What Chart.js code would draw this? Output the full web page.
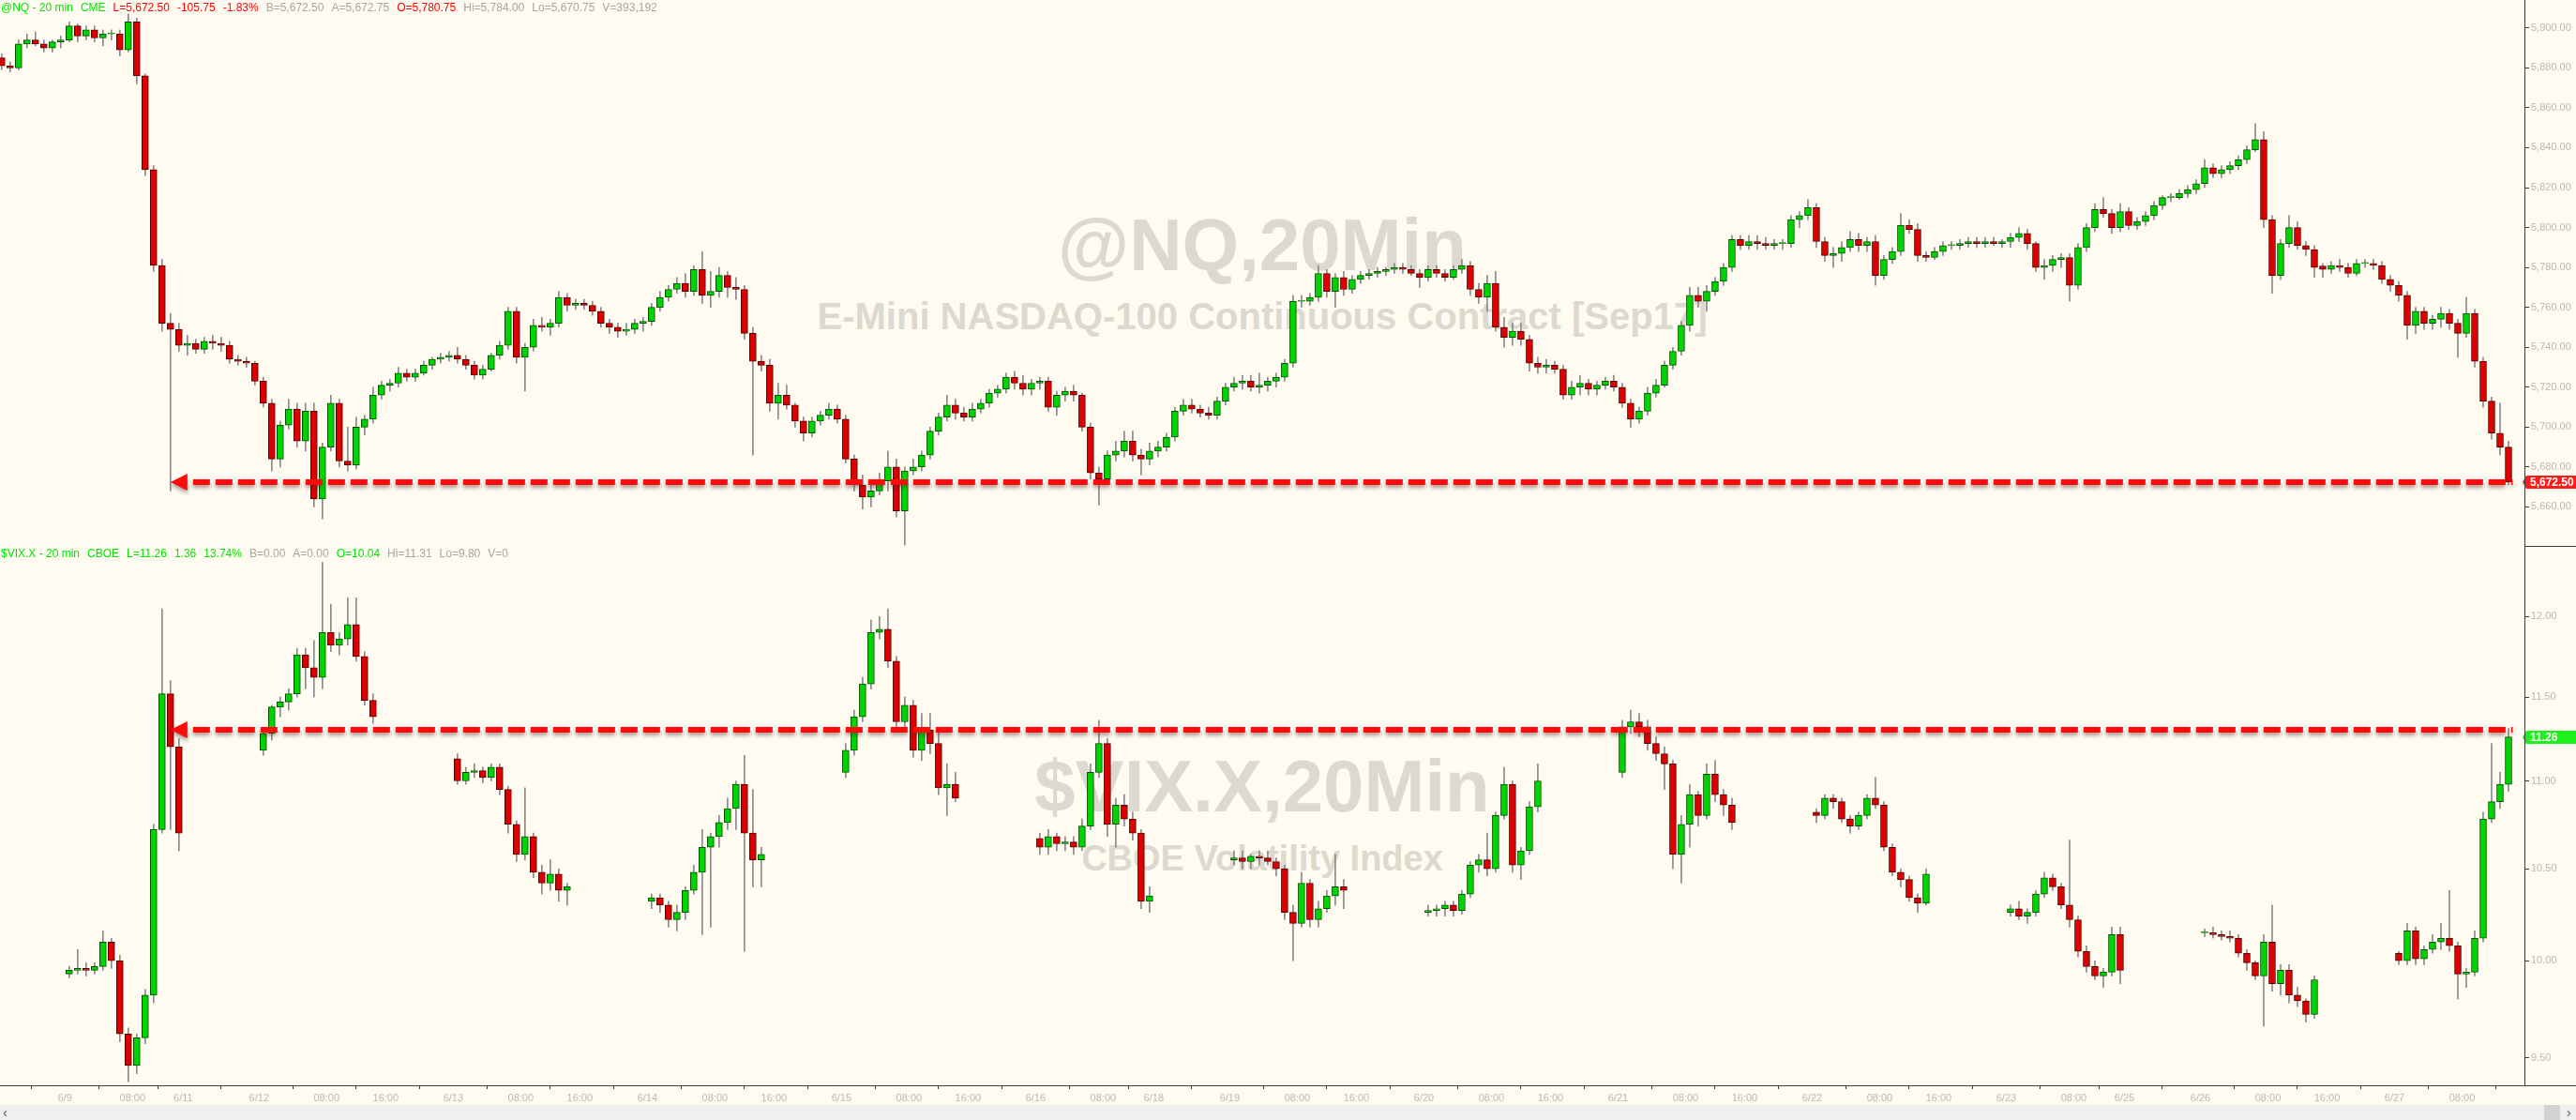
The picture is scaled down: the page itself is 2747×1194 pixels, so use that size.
<!DOCTYPE html>
<html><head><meta charset="utf-8">
<script src="https://cdn.jsdelivr.net/npm/chart.js@4/dist/chart.umd.min.js"></script>
<style>
html,body{margin:0;padding:0;background:#fffbf0;width:2747px;height:1194px;overflow:hidden;}
#wrap{position:relative;width:2747px;height:1194px;font-family:'Liberation Sans',Arial,sans-serif;}
canvas{position:absolute;left:0;z-index:2;}
.wm{position:absolute;left:1346px;transform:translateX(-50%);font-weight:bold;color:#dcd9cf;white-space:nowrap;line-height:1;z-index:1;}
.hdr{position:absolute;left:1px;font-size:12px;line-height:12px;white-space:nowrap;z-index:3;}
.hdr span{margin-right:8px;}
.g{color:#00e600}.r{color:#ff0000}.s{color:#a6a6a6}
#scroll{position:absolute;left:0;top:1178px;width:2747px;height:16px;background:#efefef;z-index:3;}
</style></head>
<body><div id="wrap">
<div class="wm" style="top:222px;font-size:78px;">@NQ,20Min</div>
<div class="wm" style="top:317px;font-size:40px;">E-Mini NASDAQ-100 Continuous Contract [Sep17]</div>
<div class="wm" style="top:799px;font-size:78px;">$VIX.X,20Min</div>
<div class="wm" style="top:896px;font-size:38px;">CBOE Volatility Index</div>
<div class="hdr" style="top:2px;"><span class="g">@NQ - 20 min</span><span class="g">CME</span><span class="r">L=5,672.50</span><span class="r">-105.75</span><span class="r">-1.83%</span><span class="s">B=5,672.50</span><span class="s">A=5,672.75</span><span class="r">O=5,780.75</span><span class="s">Hi=5,784.00</span><span class="s">Lo=5,670.75</span><span class="s">V=393,192</span></div>
<div class="hdr" style="top:584px;"><span class="g">$VIX.X - 20 min</span><span class="g">CBOE</span><span class="g">L=11.26</span><span class="g">1.36</span><span class="g">13.74%</span><span class="s">B=0.00</span><span class="s">A=0.00</span><span class="g">O=10.04</span><span class="s">Hi=11.31</span><span class="s">Lo=9.80</span><span class="s">V=0</span></div>
<canvas id="top" width="2747" height="583" style="top:0px"></canvas>
<canvas id="bot" width="2747" height="593" style="top:585px"></canvas>
<div style="position:absolute;left:2692px;top:0;width:1px;height:1158px;background:#3c3c3c;z-index:4"></div>
<div style="position:absolute;left:2692px;top:582px;width:55px;height:1px;background:#3c3c3c;z-index:4"></div>
<div style="position:absolute;left:0;top:1157px;width:2747px;height:1px;background:#3c3c3c;z-index:4"></div>
<div id="scroll">
 <div style="position:absolute;left:3px;top:0;font-size:14px;line-height:16px;color:#555">&#8249;</div>
 <div style="position:absolute;left:2713px;top:0;width:17px;height:16px;background:#d2d2d2"></div>
 <div style="position:absolute;left:2737px;top:0;font-size:14px;line-height:16px;color:#555">&#8250;</div>
</div>
</div>
<script>
// ---- timeline: trading sessions (date, first hour, last hour), hourly bars (Pacific time) ----
const sessions = [['6/8',16,23],['6/9',0,13],['6/11',15,23],['6/12',0,13],['6/12',15,23],['6/13',0,13],['6/13',15,23],
 ['6/14',0,13],['6/14',15,23],['6/15',0,13],['6/15',15,23],['6/16',0,13],['6/18',15,23],['6/19',0,13],['6/19',15,23],
 ['6/20',0,13],['6/20',15,23],['6/21',0,13],['6/21',15,23],['6/22',0,13],['6/22',15,23],['6/23',0,13],['6/25',15,23],
 ['6/26',0,13],['6/26',15,23],['6/27',0,13]];
const timeTickLabels = ['08:00','16:00'];

// ---- @NQ hourly candles [open, high, low, close] ----
const nq_0608 = [[5885,5887,5879,5881],[5881,5883,5878,5880],[5880,5894,5879,5892],[5892,5897,5890,5894],[5894,5898,5891,5892],[5892,5894,5888,5890],[5890,5894,5888,5893],[5893,5896,5890,5894]];
const nq_0609 = [[5894,5903,5893,5901],[5901,5902,5893,5896],[5896,5901,5894,5899],[5899,5901,5893,5895],[5895,5899,5891,5897],[5897,5899,5894,5897],[5897,5899,5886,5889],[5889,5907,5888,5903],[5903,5905,5872,5876],[5876,5877,5826,5829],[5829,5831,5778,5781],[5781,5784,5748,5752],[5752,5757,5668,5749],[5749,5752,5738,5741]];
const nq_0611 = [[5741,5746,5736,5742],[5742,5744,5737,5739],[5739,5745,5737,5743],[5743,5746,5739,5742],[5742,5745,5738,5741],[5741,5743,5732,5734],[5734,5736,5731,5733],[5733,5735,5730,5732],[5732,5733,5721,5723]];
const nq_0612 = [[5723,5725,5710,5712],[5712,5714,5678,5684],[5684,5703,5680,5701],[5701,5714,5699,5709],[5709,5712,5690,5693],[5693,5712,5688,5708],[5708,5712,5660,5664],[5664,5692,5654,5690],[5690,5716,5688,5712],[5712,5714,5680,5683],[5683,5700,5678,5681],[5681,5705,5679,5700],[5700,5706,5696,5704],[5704,5720,5702,5716],
 [5716,5723,5714,5721],[5721,5724,5718,5722],[5722,5730,5720,5727],[5727,5729,5723,5725],[5725,5729,5723,5727],[5727,5733,5726,5731],[5731,5735,5729,5734],[5734,5737,5732,5735],[5735,5738,5733,5736]];
const nq_0613 = [[5736,5740,5732,5734],[5734,5736,5729,5731],[5731,5733,5724,5726],[5726,5731,5724,5729],[5729,5737,5728,5736],[5736,5743,5734,5741],[5741,5760,5739,5758],[5758,5760,5732,5735],[5735,5742,5718,5740],[5740,5754,5738,5751],[5751,5755,5748,5750],[5750,5754,5746,5752],[5752,5768,5750,5765],[5765,5767,5758,5761],
 [5761,5764,5759,5762],[5762,5764,5759,5761],[5761,5763,5756,5758],[5758,5760,5750,5752],[5752,5754,5747,5750],[5750,5752,5745,5748],[5748,5752,5746,5749],[5749,5754,5747,5752],[5752,5755,5748,5753]];
const nq_0614 = [[5753,5762,5751,5760],[5760,5768,5758,5765],[5765,5771,5763,5769],[5769,5775,5767,5772],[5772,5777,5765,5768],[5768,5781,5766,5779],[5779,5788,5762,5766],[5766,5778,5760,5768],[5768,5780,5765,5776],[5776,5778,5765,5770],[5770,5775,5764,5769],[5769,5771,5744,5747],[5747,5750,5686,5733],[5733,5736,5728,5731],
 [5731,5734,5708,5712],[5712,5722,5704,5716],[5716,5721,5709,5711],[5711,5712,5700,5703],[5703,5705,5693,5697],[5697,5705,5695,5703],[5703,5708,5701,5706],[5706,5712,5704,5709],[5709,5711,5702,5704]];
const nq_0615 = [[5704,5706,5682,5684],[5684,5686,5668,5671],[5671,5676,5659,5665],[5665,5673,5660,5668],[5668,5677,5666,5673],[5673,5688,5668,5680],[5680,5684,5655,5658],[5658,5680,5641,5678],[5678,5684,5676,5680],[5680,5688,5678,5686],[5686,5700,5684,5698],[5698,5707,5696,5705],[5705,5716,5703,5711],[5711,5714,5704,5707],
 [5707,5710,5703,5705],[5705,5712,5703,5709],[5709,5714,5707,5712],[5712,5719,5710,5717],[5717,5721,5715,5719],[5719,5727,5717,5725],[5725,5728,5719,5722],[5722,5726,5716,5719],[5719,5724,5716,5722]];
const nq_0616 = [[5722,5725,5719,5723],[5723,5725,5708,5710],[5710,5718,5706,5716],[5716,5720,5713,5718],[5718,5721,5713,5716],[5716,5717,5698,5700],[5700,5702,5674,5677],[5677,5680,5661,5674],[5674,5688,5671,5686],[5686,5693,5683,5688],[5688,5698,5685,5693],[5693,5698,5683,5686],[5686,5689,5676,5684],[5684,5692,5681,5688]];
const nq_0618 = [[5688,5693,5685,5690],[5690,5697,5688,5695],[5695,5710,5693,5708],[5708,5714,5706,5711],[5711,5714,5707,5709],[5709,5711,5705,5707],[5707,5710,5704,5706],[5706,5715,5704,5713],[5713,5722,5711,5720]];
const nq_0619 = [[5720,5725,5718,5722],[5722,5726,5719,5723],[5723,5726,5718,5720],[5720,5727,5717,5721],[5721,5725,5718,5723],[5723,5727,5720,5725],[5725,5734,5723,5732],[5732,5766,5730,5763],[5763,5766,5760,5763],[5763,5767,5761,5765],[5765,5781,5763,5777],[5777,5779,5765,5768],[5768,5777,5760,5775],[5775,5778,5766,5769],
 [5769,5776,5767,5774],[5774,5778,5772,5776],[5776,5779,5774,5777],[5777,5780,5775,5778],[5778,5780,5776,5779],[5779,5782,5777,5780],[5780,5782,5777,5779],[5779,5781,5776,5777],[5777,5779,5770,5775]];
const nq_0620 = [[5775,5781,5773,5779],[5779,5781,5775,5777],[5777,5779,5773,5775],[5775,5781,5774,5779],[5779,5784,5777,5781],[5781,5783,5766,5769],[5769,5772,5762,5765],[5765,5776,5758,5772],[5772,5778,5748,5750],[5750,5755,5740,5745],[5745,5752,5741,5748],[5748,5752,5741,5744],[5744,5746,5728,5732],[5732,5735,5727,5730],
 [5730,5734,5727,5731],[5731,5733,5727,5729],[5729,5731,5714,5716],[5716,5723,5714,5720],[5720,5726,5716,5722],[5722,5724,5716,5719],[5719,5723,5716,5721],[5721,5725,5719,5723],[5723,5726,5718,5720]];
const nq_0621 = [[5720,5722,5710,5712],[5712,5714,5700,5704],[5704,5710,5702,5708],[5708,5720,5706,5717],[5717,5724,5715,5721],[5721,5733,5720,5731],[5731,5740,5729,5738],[5738,5753,5736,5751],[5751,5770,5748,5766],[5766,5770,5760,5763],[5763,5771,5758,5768],[5768,5775,5766,5773],[5773,5782,5771,5780],[5780,5796,5778,5794],
 [5794,5796,5789,5791],[5791,5796,5789,5793],[5793,5796,5789,5792],[5792,5795,5789,5791],[5791,5794,5789,5792],[5792,5794,5789,5792],[5792,5806,5790,5804],[5804,5808,5800,5806],[5806,5814,5804,5810]];
const nq_0622 = [[5810,5812,5790,5793],[5793,5795,5783,5786],[5786,5790,5780,5787],[5787,5793,5783,5790],[5790,5798,5788,5794],[5794,5797,5788,5791],[5791,5795,5788,5793],[5793,5796,5771,5776],[5776,5786,5774,5784],[5784,5790,5782,5788],[5788,5807,5786,5801],[5801,5804,5797,5799],[5799,5802,5783,5786],[5786,5788,5783,5785],
 [5785,5790,5784,5788],[5788,5793,5786,5791],[5791,5793,5789,5791],[5791,5794,5789,5792],[5792,5795,5790,5793],[5793,5795,5790,5792],[5792,5795,5790,5793],[5793,5795,5791,5792],[5792,5794,5790,5793]];
const nq_0623 = [[5793,5797,5790,5795],[5795,5800,5793,5797],[5797,5799,5789,5792],[5792,5793,5778,5780],[5780,5784,5774,5781],[5781,5786,5778,5784],[5784,5787,5780,5785],[5785,5787,5763,5771],[5771,5792,5769,5790],[5790,5802,5788,5800],[5800,5812,5798,5809],[5809,5815,5805,5807],[5807,5809,5797,5800],[5800,5812,5798,5808]];
const nq_0625 = [[5808,5810,5799,5801],[5801,5805,5799,5803],[5803,5808,5801,5806],[5806,5813,5804,5811],[5811,5816,5809,5815],[5815,5817,5813,5815],[5815,5819,5814,5817],[5817,5821,5815,5819],[5819,5824,5817,5822]];
const nq_0626 = [[5822,5834,5820,5830],[5830,5832,5825,5827],[5827,5831,5825,5829],[5829,5833,5827,5831],[5831,5836,5829,5834],[5834,5841,5832,5839],[5839,5852,5838,5844],[5844,5848,5800,5804],[5804,5806,5767,5776],[5776,5794,5774,5792],[5792,5806,5790,5800],[5800,5803,5789,5791],[5791,5793,5786,5789],[5789,5791,5775,5780],
 [5780.75,5782,5775,5779],[5779,5783,5777,5781],[5781,5784,5778,5780],[5780,5782,5775,5777],[5777,5784,5776,5782],[5782,5784,5780,5782],[5782,5784,5779,5781],[5781,5783,5772,5774],[5774,5776,5768,5771]];
const nq_0627 = [[5771,5773,5763,5766],[5766,5768,5744,5751],[5751,5760,5747,5758],[5758,5760,5749,5752],[5752,5756,5749,5754],[5754,5760,5750,5757],[5757,5759,5749,5752],[5752,5754,5735,5747],[5747,5765,5745,5757],[5757,5759,5730,5733],[5733,5735,5710,5713],[5713,5715,5694,5697],[5697,5712,5686,5690],[5690,5693,5671,5672.5]];

// ---- $VIX.X hourly candles [open, high, low, close], hours 00:00-13:00 ----
const vix_0609 = [[9.93,9.97,9.91,9.95],[9.95,10.06,9.93,9.96],[9.96,9.99,9.92,9.95],[9.95,9.99,9.93,9.97],[9.97,10.16,9.95,10.10],[10.10,10.12,9.96,10.00],[10.00,10.03,9.58,9.62],[9.62,9.65,9.38,9.46],[9.46,9.62,9.42,9.60],[9.60,9.85,9.57,9.82],[9.82,10.75,9.78,10.72],[10.72,12.05,10.70,11.52],[11.52,11.60,10.72,11.20],[11.20,11.25,10.60,10.70]];
const vix_0612 = [[11.18,11.30,11.15,11.28],[11.28,11.45,11.24,11.44],[11.44,11.50,11.38,11.47],[11.47,11.55,11.42,11.52],[11.52,11.80,11.50,11.76],[11.76,11.80,11.55,11.68],[11.68,11.85,11.50,11.62],[11.62,12.35,11.55,11.90],[11.90,12.08,11.78,11.82],[11.82,11.90,11.76,11.86],[11.86,12.12,11.82,11.95],[11.95,12.12,11.72,11.75],[11.75,11.78,11.45,11.48],[11.48,11.52,11.34,11.38]];
const vix_0613 = [[11.13,11.16,10.98,11.00],[11.00,11.08,10.98,11.05],[11.05,11.10,11.02,11.06],[11.06,11.08,10.99,11.02],[11.02,11.10,11.00,11.08],[11.08,11.10,10.92,10.95],[10.95,10.97,10.70,10.75],[10.75,10.77,10.54,10.58],[10.58,10.96,10.55,10.68],[10.68,10.70,10.45,10.48],[10.48,10.52,10.36,10.42],[10.42,10.55,10.38,10.47],[10.47,10.50,10.32,10.38],[10.38,10.42,10.30,10.40]];
const vix_0614 = [[10.32,10.36,10.28,10.34],[10.34,10.36,10.26,10.30],[10.30,10.32,10.18,10.22],[10.22,10.30,10.16,10.26],[10.26,10.40,10.22,10.38],[10.38,10.52,10.36,10.48],[10.48,10.72,10.14,10.62],[10.62,10.70,10.18,10.68],[10.68,10.80,10.62,10.76],[10.76,10.90,10.72,10.84],[10.84,11.00,10.72,10.98],[10.98,11.15,10.05,10.70],[10.70,10.95,10.40,10.55],[10.55,10.62,10.40,10.58]];
const vix_0615 = [[11.05,11.22,11.02,11.18],[11.18,11.42,11.15,11.38],[11.38,11.62,11.35,11.58],[11.58,11.98,11.55,11.90],[11.90,12.00,11.86,11.92],[11.92,12.05,11.68,11.72],[11.72,11.75,11.30,11.35],[11.35,11.50,11.30,11.45],[11.45,11.48,11.14,11.18],[11.18,11.40,11.12,11.30],[11.30,11.40,11.16,11.22],[11.22,11.30,10.92,10.96],[10.96,11.10,10.80,10.98],[10.98,11.05,10.88,10.90]];
const vix_0616 = [[10.67,10.70,10.58,10.62],[10.62,10.72,10.58,10.68],[10.68,10.70,10.60,10.64],[10.64,10.68,10.60,10.65],[10.65,10.68,10.58,10.62],[10.62,10.78,10.60,10.74],[10.74,11.10,10.72,11.05],[11.05,11.36,11.02,11.22],[11.22,11.25,10.68,10.75],[10.75,10.90,10.62,10.86],[10.86,10.92,10.74,10.78],[10.78,10.82,10.66,10.70],[10.70,10.72,10.28,10.32],[10.32,10.40,10.26,10.35]];
const vix_0619 = [[10.55,10.60,10.52,10.56],[10.56,10.60,10.50,10.54],[10.54,10.58,10.50,10.57],[10.57,10.60,10.52,10.56],[10.56,10.60,10.52,10.54],[10.54,10.56,10.46,10.50],[10.50,10.52,10.22,10.26],[10.26,10.30,10.00,10.20],[10.20,10.48,10.18,10.42],[10.42,10.44,10.18,10.22],[10.22,10.32,10.18,10.28],[10.28,10.38,10.26,10.35],[10.35,10.58,10.30,10.40],[10.40,10.44,10.28,10.38]];
const vix_0620 = [[10.26,10.30,10.24,10.27],[10.27,10.30,10.24,10.28],[10.28,10.32,10.24,10.30],[10.30,10.32,10.24,10.27],[10.27,10.38,10.25,10.36],[10.36,10.54,10.34,10.52],[10.52,10.58,10.48,10.55],[10.55,10.70,10.46,10.50],[10.50,10.82,10.48,10.80],[10.80,11.08,10.78,10.98],[10.98,11.00,10.48,10.52],[10.52,10.62,10.44,10.60],[10.60,10.88,10.58,10.85],[10.85,11.10,10.82,11.00]];
const vix_0621 = [[11.05,11.36,11.02,11.32],[11.32,11.42,11.28,11.35],[11.35,11.40,11.26,11.32],[11.32,11.36,11.18,11.22],[11.22,11.26,11.12,11.16],[11.16,11.20,10.95,11.10],[11.10,11.12,10.50,10.58],[10.58,10.80,10.42,10.75],[10.75,10.98,10.62,10.92],[10.92,10.94,10.74,10.80],[10.80,11.10,10.78,11.04],[11.04,11.12,10.88,10.92],[10.92,10.95,10.80,10.86],[10.86,10.90,10.72,10.76]];
const vix_0622 = [[10.82,10.84,10.76,10.80],[10.80,10.92,10.78,10.90],[10.90,10.92,10.84,10.88],[10.88,10.90,10.76,10.78],[10.78,10.80,10.70,10.74],[10.74,10.82,10.72,10.80],[10.80,10.92,10.78,10.90],[10.90,11.02,10.84,10.86],[10.86,10.88,10.60,10.62],[10.62,10.64,10.46,10.48],[10.48,10.50,10.40,10.44],[10.44,10.46,10.32,10.34],[10.34,10.36,10.26,10.31],[10.31,10.50,10.30,10.47]];
const vix_0623 = [[10.26,10.30,10.24,10.28],[10.28,10.32,10.22,10.24],[10.24,10.28,10.20,10.26],[10.26,10.38,10.24,10.36],[10.36,10.48,10.34,10.45],[10.45,10.47,10.38,10.40],[10.40,10.42,10.28,10.30],[10.30,10.66,10.18,10.22],[10.22,10.24,10.02,10.05],[10.05,10.08,9.94,9.97],[9.97,10.00,9.90,9.92],[9.92,9.96,9.86,9.94],[9.94,10.18,9.92,10.14],[10.14,10.18,9.88,9.95]];
const vix_0626 = [[10.15,10.17,10.13,10.15],[10.15,10.18,10.12,10.14],[10.14,10.16,10.11,10.13],[10.13,10.16,10.10,10.12],[10.12,10.14,10.02,10.04],[10.04,10.06,9.95,9.99],[9.99,10.00,9.90,9.92],[9.92,10.14,9.66,10.10],[10.10,10.30,9.84,9.88],[9.88,9.98,9.82,9.95],[9.95,9.98,9.78,9.82],[9.82,9.86,9.76,9.79],[9.79,9.80,9.68,9.72],[9.72,9.92,9.70,9.90]];
const vix_0627 = [[10.04,10.05,9.98,10.00],[10.00,10.20,9.98,10.16],[10.16,10.18,9.98,10.01],[10.01,10.08,9.98,10.06],[10.06,10.14,10.04,10.10],[10.10,10.20,10.06,10.12],[10.12,10.38,10.05,10.08],[10.08,10.10,9.80,9.93],[9.93,9.96,9.86,9.94],[9.94,10.16,9.92,10.12],[10.12,10.82,10.10,10.78],[10.78,11.22,10.76,10.88],[10.88,11.05,10.84,10.98],[10.98,11.31,10.94,11.26]];

const nqDays = [['6/8',nq_0608],['6/9',nq_0609],['6/11',nq_0611],['6/12',nq_0612],['6/13',nq_0613],['6/14',nq_0614],['6/15',nq_0615],['6/16',nq_0616],['6/18',nq_0618],['6/19',nq_0619],['6/20',nq_0620],['6/21',nq_0621],['6/22',nq_0622],['6/23',nq_0623],['6/25',nq_0625],['6/26',nq_0626],['6/27',nq_0627]];
const vixDays = [['6/9',vix_0609],['6/12',vix_0612],['6/13',vix_0613],['6/14',vix_0614],['6/15',vix_0615],['6/16',vix_0616],['6/19',vix_0619],['6/20',vix_0620],['6/21',vix_0621],['6/22',vix_0622],['6/23',vix_0623],['6/26',vix_0626],['6/27',vix_0627]];

// axis tick values & annotations
const nqTicks = [5660,5680,5700,5720,5740,5760,5780,5800,5820,5840,5860,5880,5900];
const vixTicks = [9.5,10,10.5,11,11.5,12];
const nqLevel = 5672.5, nqLast = '5,672.50';
const vixLevel = 11.30, vixLastVal = 11.26, vixLast = '11.26';
const arrowFrom = ['6/9',12];

// ---------- build ----------
const slots = [];
sessions.forEach(([d,a,b]) => { for (let h=a; h<=b; h++) slots.push({d,h}); });
const slotsOfDate = d => slots.map((s,i)=>s.d===d?i:-1).filter(i=>i>=0);
function candles(days){
  const out=[];
  days.forEach(([d,arr]) => { const idx = slotsOfDate(d); arr.forEach((c,i)=>{ if(i<idx.length) out.push({x:idx[i]+0.5,o:c[0],h:c[1],l:c[2],c:c[3]}); }); });
  return out;
}
const nqC = candles(nqDays), vixC = candles(vixDays);
const lastSlot = slots.length;
const arrowSlot = slots.findIndex(s=>s.d===arrowFrom[0]&&s.h===arrowFrom[1]) + 0.5;

// x ticks
const xTicks = [];
const firstDate = slots[0].d;
slots.forEach((s,i) => {
  if (s.d===firstDate) return;
  const first = i===0 || slots[i-1].d!==s.d;
  if (first) xTicks.push({v:i,label:s.d});
  const weekday = slots.some(t=>t.d===s.d && t.h===0);
  if (s.h===8 && weekday) xTicks.push({v:i,label:timeTickLabels[0]});
  if (s.h===16 && weekday) xTicks.push({v:i,label:timeTickLabels[1]});
});

const UP='#00d400', UPB='#004d00', DN='#dc0000', DNB='#4d0000', WICK='#8a8a8a';
function candleSets(cs){
  return [
    {order:0, grouped:false, data: cs.map(k=>({x:k.x,y:[k.o,k.c]})),
     backgroundColor: cs.map(k=>k.c>=k.o?UP:DN), borderColor: cs.map(k=>k.c>=k.o?UPB:DNB),
     borderWidth:1, borderSkipped:false, barThickness:7, minBarLength:1},
    {order:1, grouped:false, data: cs.map(k=>({x:k.x,y:[k.l,k.h]})), backgroundColor:WICK, borderWidth:0, barThickness:1}
  ];
}

Chart.defaults.font.family = "'Liberation Sans', Arial, sans-serif";
const XMIN=0.3, XMAX=299.5;

function levelPlugin(level, boxText, boxColor, labelVal){
  return {
    id:'lvl',
    afterDatasetsDraw(chart){
      const {ctx, scales:{x,y}} = chart;
      const py = Math.round(y.getPixelForValue(level));
      const x0 = x.getPixelForValue(arrowSlot), x1 = x.getPixelForValue(lastSlot);
      ctx.save();
      ctx.shadowColor='rgba(60,40,40,0.45)'; ctx.shadowBlur=4; ctx.shadowOffsetY=3;
      ctx.strokeStyle='#ff0a0a'; ctx.lineWidth=6; ctx.setLineDash([18,6]);
      ctx.beginPath(); ctx.moveTo(x0+24,py); ctx.lineTo(x1,py); ctx.stroke();
      ctx.setLineDash([]); ctx.fillStyle='#ff0a0a';
      ctx.beginPath(); ctx.moveTo(x0,py); ctx.lineTo(x0+18,py-9); ctx.lineTo(x0+18,py+9); ctx.closePath(); ctx.fill();
      ctx.restore();
    },
    afterDraw(chart){
      const {ctx, scales:{y}} = chart;
      const py = Math.round(y.getPixelForValue(labelVal));
      const L = chart.chartArea.right+1, R = chart.width, hh = 7;
      ctx.save();
      ctx.fillStyle=boxColor;
      ctx.beginPath(); ctx.moveTo(L-4,py); ctx.lineTo(L,py-hh); ctx.lineTo(R,py-hh); ctx.lineTo(R,py+hh); ctx.lineTo(L,py+hh); ctx.closePath(); ctx.fill();
      ctx.fillStyle='#ffffff'; ctx.font="bold 12px 'Liberation Sans', Arial, sans-serif";
      ctx.textBaseline='middle'; ctx.textAlign='left'; ctx.fillText(boxText, L+4, py+1);
      ctx.restore();
    }
  };
}

const yCommon = (ticks, fmt) => ({
  position:'right',
  border:{display:false},
  grid:{drawOnChartArea:false, drawTicks:true, tickLength:4, color:'#3c3c3c'},
  ticks:{color:'#b8b8b8', font:{size:11}, padding:2, callback:(v)=>fmt(v)},
  afterBuildTicks:(s)=>{ s.ticks = ticks.map(v=>({value:v})); },
  afterFit:(s)=>{ s.width=54; s.paddingTop=0; s.paddingBottom=0; }
});

new Chart(document.getElementById('top'), {
  type:'bar',
  data:{datasets:candleSets(nqC)},
  options:{responsive:false, animation:false, devicePixelRatio:1, events:[],
    layout:{padding:0},
    plugins:{legend:{display:false}, tooltip:{enabled:false}},
    scales:{
      x:{type:'linear', min:XMIN, max:XMAX, offset:false, display:false},
      y:Object.assign({type:'linear', min:5640, max:5914, beginAtZero:false},
        yCommon(nqTicks, v=>v.toLocaleString('en-US',{minimumFractionDigits:2,maximumFractionDigits:2})))
    }},
  plugins:[levelPlugin(nqLevel, nqLast, '#ff1a1a', nqLevel)]
});

new Chart(document.getElementById('bot'), {
  type:'bar',
  data:{datasets:candleSets(vixC)},
  options:{responsive:false, animation:false, devicePixelRatio:1, events:[],
    layout:{padding:{top:5,left:0,right:0,bottom:0}},
    plugins:{legend:{display:false}, tooltip:{enabled:false}},
    scales:{
      x:{type:'linear', min:XMIN, max:XMAX, offset:false, position:'bottom',
        border:{display:false},
        grid:{drawOnChartArea:false, drawTicks:true, tickLength:4, color:'#3c3c3c'},
        ticks:{color:'#b8b8b8', font:{size:11}, padding:3, autoSkip:false, maxRotation:0, minRotation:0,
          callback:(v,i)=>xTicks[i]?xTicks[i].label:''},
        afterBuildTicks:(s)=>{ s.ticks = xTicks.map(t=>({value:t.v})); },
        afterFit:(s)=>{ s.height=21; s.paddingLeft=0; s.paddingRight=0; }
      },
      y:Object.assign({type:'logarithmic', min:9.3617, max:12.409},
        yCommon(vixTicks, v=>Number(v).toFixed(2)))
    }},
  plugins:[levelPlugin(vixLevel, vixLast, '#1ef01e', vixLastVal)]
});
</script>
</body></html>
